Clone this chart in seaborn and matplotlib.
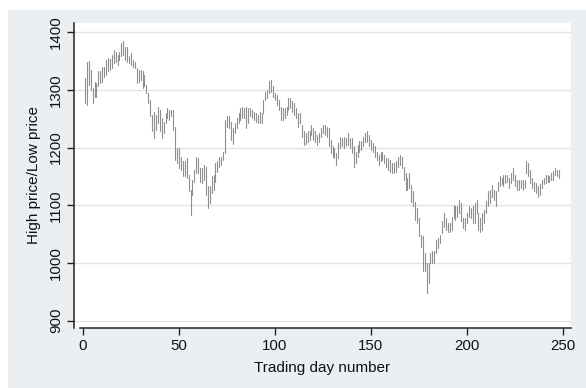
import numpy as np
import pandas as pd
import matplotlib

matplotlib.use("Agg")
import matplotlib.pyplot as plt
import seaborn as sns
from matplotlib.patches import Rectangle

# daily high / low prices (days 1..248)
high = [
    1320, 1349, 1350, 1335, 1303, 1314, 1312, 1332, 1332, 1340,
    1340, 1352, 1355, 1353, 1361, 1369, 1366, 1361, 1366, 1381,
    1384, 1375, 1375, 1358, 1364, 1352, 1349, 1338, 1335, 1335,
    1332, 1326, 1309, 1294, 1283, 1257, 1262, 1257, 1271, 1265,
    1251, 1245, 1260, 1268, 1265, 1265, 1265, 1236, 1199, 1199,
    1184, 1176, 1176, 1182, 1153, 1127, 1144, 1161, 1184, 1182,
    1164, 1164, 1170, 1167, 1133, 1133, 1150, 1153, 1173, 1176,
    1184, 1184, 1193, 1248, 1254, 1254, 1245, 1234, 1242, 1251,
    1260, 1268, 1271, 1268, 1271, 1268, 1268, 1265, 1262, 1260,
    1257, 1262, 1260, 1283, 1297, 1300, 1315, 1317, 1306, 1294,
    1291, 1283, 1271, 1268, 1268, 1271, 1286, 1286, 1280, 1277,
    1268, 1260, 1260, 1239, 1228, 1225, 1228, 1228, 1239, 1234,
    1228, 1222, 1225, 1234, 1239, 1239, 1236, 1234, 1213, 1202,
    1199, 1190, 1208, 1219, 1216, 1219, 1216, 1225, 1216, 1216,
    1202, 1193, 1205, 1211, 1211, 1219, 1225, 1228, 1222, 1213,
    1208, 1202, 1193, 1187, 1193, 1193, 1187, 1182, 1182, 1179,
    1173, 1173, 1176, 1184, 1187, 1184, 1167, 1155, 1147, 1155,
    1135, 1124, 1106, 1095, 1077, 1049, 1046, 1017, 1000, 1000,
    1017, 1020, 1020, 1040, 1043, 1049, 1072, 1086, 1078, 1069,
    1069, 1080, 1101, 1098, 1098, 1109, 1104, 1078, 1078, 1086,
    1098, 1095, 1098, 1104, 1109, 1086, 1078, 1086, 1092, 1107,
    1124, 1127, 1135, 1127, 1124, 1141, 1150, 1147, 1153, 1153,
    1153, 1147, 1156, 1164, 1153, 1144, 1144, 1144, 1144, 1144,
    1176, 1173, 1161, 1147, 1141, 1138, 1133, 1136, 1144, 1147,
    1153, 1153, 1150, 1156, 1159, 1164, 1161, 1161,
]
low = [
    1277, 1274, 1309, 1300, 1277, 1288, 1288, 1306, 1312, 1314,
    1323, 1326, 1332, 1335, 1338, 1346, 1349, 1343, 1352, 1358,
    1361, 1352, 1349, 1346, 1343, 1340, 1338, 1312, 1314, 1317,
    1303, 1306, 1294, 1277, 1254, 1228, 1216, 1231, 1242, 1228,
    1216, 1225, 1242, 1251, 1248, 1254, 1231, 1179, 1173, 1164,
    1161, 1150, 1150, 1147, 1124, 1083, 1118, 1141, 1155, 1155,
    1141, 1138, 1144, 1118, 1095, 1104, 1121, 1127, 1141, 1158,
    1167, 1170, 1179, 1190, 1236, 1234, 1213, 1207, 1225, 1234,
    1242, 1248, 1251, 1251, 1234, 1242, 1254, 1251, 1248, 1245,
    1242, 1242, 1242, 1260, 1283, 1286, 1294, 1297, 1288, 1283,
    1274, 1265, 1248, 1248, 1251, 1257, 1265, 1268, 1262, 1257,
    1251, 1236, 1242, 1219, 1205, 1207, 1210, 1213, 1222, 1213,
    1210, 1205, 1210, 1219, 1225, 1222, 1219, 1202, 1190, 1184,
    1182, 1170, 1182, 1199, 1202, 1199, 1202, 1205, 1199, 1190,
    1167, 1173, 1184, 1193, 1196, 1202, 1210, 1210, 1202, 1196,
    1193, 1184, 1179, 1170, 1176, 1179, 1173, 1167, 1161, 1158,
    1155, 1155, 1158, 1167, 1170, 1164, 1144, 1127, 1127, 1130,
    1106, 1098, 1075, 1069, 1046, 1028, 985, 985, 947, 965,
    1000, 1000, 1000, 1017, 1025, 1034, 1052, 1063, 1057, 1054,
    1054, 1057, 1078, 1075, 1080, 1086, 1072, 1060, 1057, 1069,
    1080, 1078, 1069, 1069, 1086, 1057, 1054, 1057, 1069, 1086,
    1098, 1104, 1115, 1109, 1098, 1124, 1133, 1136, 1133, 1138,
    1141, 1130, 1138, 1144, 1133, 1127, 1127, 1130, 1127, 1130,
    1156, 1150, 1138, 1130, 1124, 1121, 1115, 1118, 1130, 1136,
    1138, 1141, 1141, 1144, 1144, 1153, 1150, 1147,
]
day = np.arange(1, len(high) + 1)

x_ticks = [0, 50, 100, 150, 200, 250]
y_ticks = [900, 1000, 1100, 1200, 1300, 1400]

# long format: two points per day, one line per day -> range spikes
df = pd.DataFrame({
    "day": np.concatenate([day, day]),
    "price": np.concatenate([low, high]),
})

sns.set_style("white")
plt.rcParams["font.family"] = ["Liberation Sans", "DejaVu Sans"]

fig = plt.figure(figsize=(5.86, 3.88), dpi=100, facecolor="white")
fig.patches.append(Rectangle((8 / 586, 0), 1, 1 - 10 / 388, transform=fig.transFigure,
                             facecolor="#eceff2", edgecolor="none", zorder=-10))
ax = fig.add_axes([74 / 586, 1 - 328 / 388, 497 / 586, 305 / 388])
ax.set_facecolor("white")

sns.lineplot(data=df, x="day", y="price", units="day", estimator=None,
             color="#8f8f8f", linewidth=0.8, ax=ax, legend=False)

ax.set_xlim(-4.7, 254.2)
ax.set_ylim(887, 1416)
ax.set_xticks(x_ticks)
ax.set_yticks(y_ticks)
ax.set_yticklabels([str(v) for v in y_ticks], rotation=90, va="center")
ax.grid(axis="y", color="#e4e4e4", linewidth=1.0)
ax.grid(axis="x", visible=False)

for s in ["top", "right"]:
    ax.spines[s].set_visible(False)
for s in ["left", "bottom"]:
    ax.spines[s].set_color("#222222")
    ax.spines[s].set_linewidth(1.1)
ax.spines["bottom"].set_bounds(-1.6, 254.2)

ax.tick_params(axis="both", direction="out", length=5, width=1.0, color="#222222",
               labelsize=10.8, labelcolor="#111111", bottom=True, left=True, pad=3)

ax.set_xlabel("Trading day number", fontsize=11, color="#111111", labelpad=6)
ax.set_ylabel("High price/Low price", fontsize=11, color="#111111", labelpad=6)

plt.savefig("out.png", dpi=100, facecolor=fig.get_facecolor())
plt.close()
